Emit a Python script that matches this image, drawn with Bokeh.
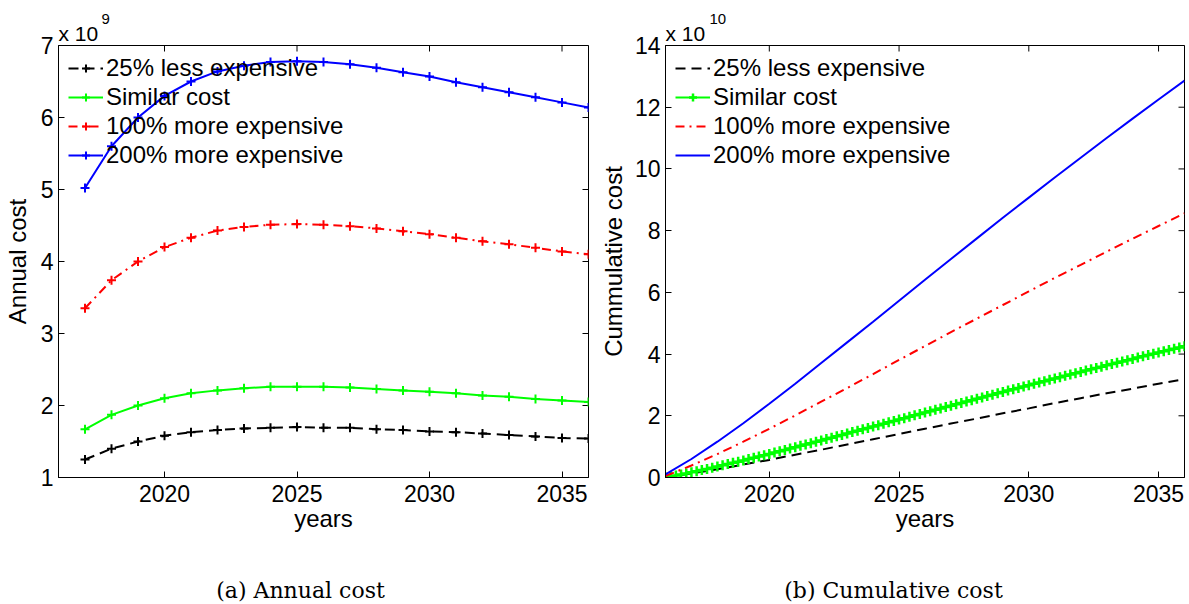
import math
from bokeh.plotting import figure
from bokeh.layouts import row, column
from bokeh.models import Legend, LegendItem, FixedTicker, Range1d, Title, Label
from bokeh.embed import file_html
from bokeh.resources import INLINE

FONT = "Liberation Sans"
SERIF = "DejaVu Serif"

# ---------------- data ----------------
series_names = ["25% less expensive", "Similar cost", "100% more expensive", "200% more expensive"]
captions = ["(a) Annual cost", "(b) Cumulative cost"]

# Annual cost (x 1e9)
years = [2017, 2018, 2019, 2020, 2021, 2022, 2023, 2024, 2025, 2026,
         2027, 2028, 2029, 2030, 2031, 2032, 2033, 2034, 2035, 2036]
annual_less25 = [1.25, 1.40, 1.50, 1.58, 1.63, 1.66, 1.68, 1.69, 1.70, 1.69,
                 1.69, 1.67, 1.66, 1.64, 1.63, 1.61, 1.59, 1.57, 1.55, 1.54]
annual_similar = [1.67, 1.87, 2.00, 2.10, 2.17, 2.21, 2.24, 2.26, 2.26, 2.26,
                  2.25, 2.23, 2.21, 2.19, 2.17, 2.14, 2.12, 2.09, 2.07, 2.05]
annual_more100 = [3.35, 3.74, 4.00, 4.20, 4.33, 4.43, 4.48, 4.51, 4.52, 4.51,
                  4.49, 4.46, 4.42, 4.38, 4.33, 4.28, 4.24, 4.19, 4.14, 4.10]
annual_more200 = [5.02, 5.60, 6.00, 6.30, 6.50, 6.64, 6.72, 6.77, 6.78, 6.77,
                  6.74, 6.69, 6.63, 6.57, 6.49, 6.42, 6.35, 6.28, 6.21, 6.14]

# Cumulative cost (x 1e10)
cum_years = [2016, 2017, 2018, 2019, 2020, 2021, 2022, 2023, 2024, 2025, 2026,
             2027, 2028, 2029, 2030, 2031, 2032, 2033, 2034, 2035, 2036]
cum_less25 = [0.00, 0.13, 0.27, 0.42, 0.57, 0.74, 0.90, 1.07, 1.24, 1.41, 1.58,
              1.75, 1.91, 2.08, 2.24, 2.41, 2.57, 2.73, 2.88, 3.04, 3.19]
cum_more100 = [0.05, 0.39, 0.76, 1.16, 1.58, 2.01, 2.46, 2.90, 3.35, 3.81, 4.26,
               4.71, 5.15, 5.59, 6.03, 6.47, 6.89, 7.32, 7.74, 8.15, 8.56]
cum_more200 = [0.10, 0.60, 1.16, 1.76, 2.39, 3.04, 3.71, 4.38, 5.05, 5.73, 6.41,
               7.08, 7.75, 8.42, 9.07, 9.72, 10.36, 11.00, 11.63, 12.25, 12.86]
# "Similar cost" cumulative is sampled finely (dense markers), 5 samples per year
cum_similar_years = [round(2016 + i / 5, 1) for i in range(101)]
cum_similar = [
    0.000, 0.032, 0.065, 0.099, 0.133, 0.167, 0.204, 0.242, 0.279, 0.317,
    0.354, 0.394, 0.434, 0.474, 0.514, 0.554, 0.596, 0.638, 0.680, 0.722,
    0.764, 0.807, 0.851, 0.894, 0.938, 0.981, 1.025, 1.070, 1.114, 1.158,
    1.202, 1.247, 1.292, 1.336, 1.381, 1.426, 1.471, 1.516, 1.562, 1.607,
    1.652, 1.697, 1.742, 1.788, 1.833, 1.878, 1.923, 1.968, 2.014, 2.059,
    2.104, 2.149, 2.194, 2.239, 2.284, 2.329, 2.374, 2.418, 2.463, 2.507,
    2.552, 2.596, 2.640, 2.685, 2.729, 2.773, 2.817, 2.861, 2.904, 2.948,
    2.992, 3.035, 3.079, 3.122, 3.166, 3.209, 3.252, 3.295, 3.337, 3.380,
    3.423, 3.465, 3.508, 3.550, 3.593, 3.635, 3.677, 3.719, 3.760, 3.802,
    3.844, 3.885, 3.927, 3.968, 4.010, 4.051, 4.092, 4.133, 4.174, 4.215,
    4.256]

x_ticks = [2020, 2025, 2030, 2035]
annual_y_ticks = [1, 2, 3, 4, 5, 6, 7]
cum_y_ticks = [0, 2, 4, 6, 8, 10, 12, 14]

colors = ["#000000", "#00ff00", "#ff0000", "#0000ff"]
BLACK_DASH = "10 6"
RED_DASHDOT = "9 5 2 5"

HEIGHT = 560
TOP = 45
FRAME_H = 432
BOTTOM = HEIGHT - TOP - FRAME_H
CAP_H = 43


def style_axes(p, yticks):
    p.xgrid.visible = False
    p.ygrid.visible = False
    p.outline_line_color = "black"
    p.outline_line_width = 1
    p.xaxis.ticker = FixedTicker(ticks=x_ticks)
    p.yaxis.ticker = FixedTicker(ticks=yticks)
    for ax in list(p.xaxis) + list(p.yaxis):
        ax.major_tick_in = 6
        ax.major_tick_out = 0
        ax.minor_tick_in = 0
        ax.minor_tick_out = 0
        ax.axis_line_color = "black"
        ax.major_tick_line_color = "black"
        ax.major_label_text_font = FONT
        ax.major_label_text_font_size = "23px"
        ax.major_label_text_color = "black"
        ax.axis_label_text_font = FONT
        ax.axis_label_text_font_size = "24px"
        ax.axis_label_text_font_style = "normal"
        ax.axis_label_text_color = "black"
    p.xaxis.major_label_standoff = 7
    p.yaxis.major_label_standoff = 5
    p.xaxis.axis_label_standoff = 0
    # mirrored inward tick marks on the top and right edges (MATLAB box style)
    xr, yr = p.x_range, p.y_range
    p.scatter(x=x_ticks, y=[yr.end] * len(x_ticks), marker="dash", angle=math.pi / 2,
              size=12, line_color="black", line_width=1)
    p.scatter(x=[xr.end] * len(yticks), y=yticks, marker="dash",
              size=12, line_color="black", line_width=1)


def add_legend(p, items):
    leg = Legend(items=items, location=(10, 308), padding=0, margin=0, spacing=0,
                 glyph_width=35, glyph_height=20, label_height=29, label_standoff=3,
                 label_text_font=FONT, label_text_font_size="24px",
                 label_text_color="black", border_line_alpha=0,
                 background_fill_alpha=0)
    p.add_layout(leg)


def set_exponent(p, exp_text, exp_offset):
    p.title.visible = False
    p.add_layout(Title(text="x 10", align="left", offset=0, standoff=1,
                       text_font=FONT, text_font_size="21px", text_font_style="normal",
                       text_color="black"), "above")
    p.add_layout(Title(text=exp_text, align="left", offset=exp_offset, standoff=-9,
                       text_font=FONT, text_font_size="15px", text_font_style="normal",
                       text_color="black"), "above")


# ---------------- (a) annual ----------------
W1 = 58 + 530 + 2
p1 = figure(width=W1, height=HEIGHT, x_range=Range1d(2016, 2036), y_range=Range1d(1, 7),
            output_backend="svg", toolbar_location=None,
            min_border_left=58, min_border_right=2, min_border_top=TOP, min_border_bottom=BOTTOM,
            x_axis_label="years", y_axis_label="Annual cost")
style_axes(p1, annual_y_ticks)
p1.yaxis.axis_label_standoff = 7

annual = [annual_less25, annual_similar, annual_more100, annual_more200]
dashes = [BLACK_DASH, "solid", RED_DASHDOT, "solid"]
items1 = []
for name, ys, c, d in zip(series_names, annual, colors, dashes):
    ln = p1.line(years, ys, line_color=c, line_width=2, line_dash=d)
    sc = p1.scatter(years, ys, marker="cross", size=9, line_color=c, line_width=2)
    items1.append(LegendItem(label=name, renderers=[ln, sc]))
add_legend(p1, items1)
set_exponent(p1, "9", 43)

# ---------------- (b) cumulative ----------------
W2 = 75 + 519 + 2
p2 = figure(width=W2, height=HEIGHT, x_range=Range1d(2016, 2036), y_range=Range1d(0, 14),
            output_backend="svg", toolbar_location=None,
            min_border_left=75, min_border_right=2, min_border_top=TOP, min_border_bottom=BOTTOM,
            x_axis_label="years", y_axis_label="Cummulative cost")
style_axes(p2, cum_y_ticks)
p2.yaxis.axis_label_standoff = 5

l_less = p2.line(cum_years, cum_less25, line_color=colors[0], line_width=2, line_dash=BLACK_DASH)
l_sim = p2.line(cum_similar_years, cum_similar, line_color=colors[1], line_width=2)
s_sim = p2.scatter(cum_similar_years, cum_similar, marker="cross", size=10,
                   line_color=colors[1], line_width=2.5)
l_100 = p2.line(cum_years, cum_more100, line_color=colors[2], line_width=2, line_dash=RED_DASHDOT)
l_200 = p2.line(cum_years, cum_more200, line_color=colors[3], line_width=2)
items2 = [LegendItem(label=series_names[0], renderers=[l_less]),
          LegendItem(label=series_names[1], renderers=[l_sim, s_sim]),
          LegendItem(label=series_names[2], renderers=[l_100]),
          LegendItem(label=series_names[3], renderers=[l_200])]
add_legend(p2, items2)
set_exponent(p2, "10", 44)

# ---------------- sub-figure captions ----------------
pcap = figure(width=W1 + W2, height=CAP_H, x_range=Range1d(0, W1 + W2), y_range=Range1d(0, CAP_H),
              output_backend="svg", toolbar_location=None, x_axis_type=None, y_axis_type=None,
              min_border=0, outline_line_color=None)
pcap.xgrid.visible = False
pcap.ygrid.visible = False
for cap, cx in zip(captions, [300, 893]):
    pcap.add_layout(Label(x=cx, y=CAP_H - 30, text=cap, text_font=SERIF, text_font_size="22px",
                          text_color="black", text_align="center", text_baseline="middle"))

layout = column(row(p1, p2, spacing=0), pcap, spacing=0)
open("out.html", "w").write(file_html(layout, INLINE))
